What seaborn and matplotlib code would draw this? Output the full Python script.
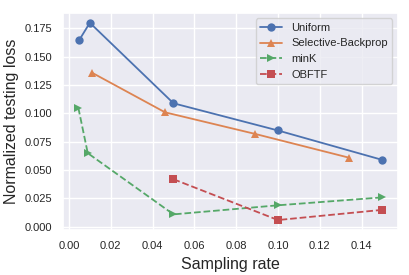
import matplotlib
matplotlib.use("Agg")
import matplotlib.pyplot as plt
import seaborn as sns
import pandas as pd

# values
uniform_x = [0.005, 0.01, 0.05, 0.1, 0.15]
uniform_y = [0.165, 0.180, 0.109, 0.085, 0.059]
sb_x = [0.011, 0.046, 0.089, 0.134]
sb_y = [0.136, 0.101, 0.082, 0.061]
mink_x = [0.0045, 0.009, 0.05, 0.1, 0.15]
mink_y = [0.105, 0.065, 0.011, 0.019, 0.026]
obftf_x = [0.05, 0.1, 0.15]
obftf_y = [0.042, 0.006, 0.015]

sns.set_theme(style="darkgrid")
plt.rcParams['font.family'] = ['Liberation Sans', 'DejaVu Sans']
pal = sns.color_palette("deep")

fig, ax = plt.subplots(figsize=(4.1, 2.75), dpi=100)

series = [
    ("Uniform", uniform_x, uniform_y, "o", "-", pal[0]),
    ("Selective-Backprop", sb_x, sb_y, "^", "-", pal[1]),
    ("minK", mink_x, mink_y, ">", "--", pal[2]),
    ("OBFTF", obftf_x, obftf_y, "s", "--", pal[3]),
]
for name, xs, ys, mk, ls, c in series:
    df = pd.DataFrame({"x": xs, "y": ys})
    sns.lineplot(data=df, x="x", y="y", marker=mk, linestyle=ls, color=c,
                 markersize=6, markeredgewidth=0, label=name, ax=ax,
                 sort=False, linewidth=1.3)

ax.set_xlabel("Sampling rate", fontsize=11.5)
ax.set_ylabel("Normalized testing loss", fontsize=11.5)
ax.tick_params(labelsize=8, pad=2)
ax.set_xticks([0.0, 0.02, 0.04, 0.06, 0.08, 0.1, 0.12, 0.14])
ax.set_yticks([0.0, 0.025, 0.05, 0.075, 0.1, 0.125, 0.15, 0.175])
ax.legend(loc="upper right", fontsize=8)
fig.subplots_adjust(left=0.154, right=0.97, bottom=0.164, top=0.953)
fig.savefig("out.png", dpi=100)
